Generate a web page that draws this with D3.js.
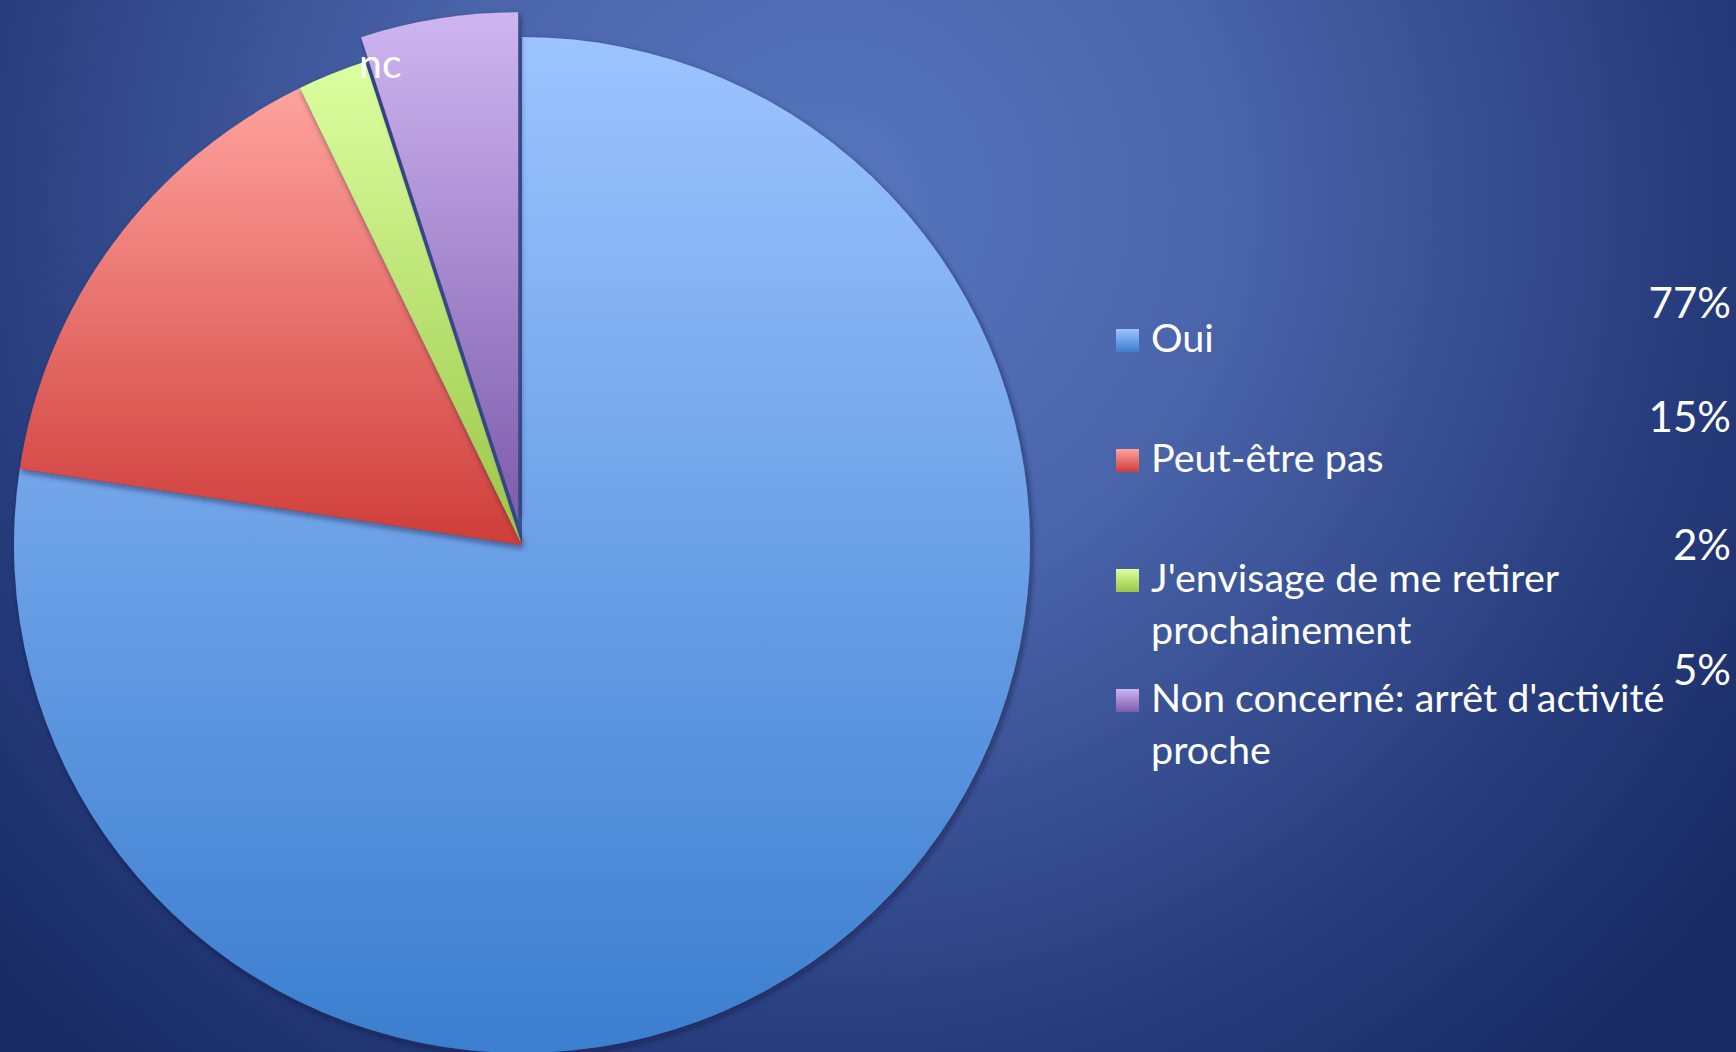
<!DOCTYPE html>
<html><head><meta charset="utf-8">
<script src="https://cdn.jsdelivr.net/npm/d3@7"></script>
<style>html,body{margin:0;padding:0;overflow:hidden;background:#1c2d66}</style>
</head><body>
<script>
const categories = ["Oui", "Peut-être pas", "J'envisage de me retirer prochainement", "Non concerné: arrêt d'activité proche"];
const values = [77.4, 15.4, 2.2, 5.0];
const shortLabels = ["", "", "", "nc"];
const topColors = ["#9dc4ff", "#ffa39e", "#dcffa0", "#cfb5f0"];
const bottomColors = ["#3b7ecf", "#cf3d39", "#9ac646", "#7d5cad"];
const explode = [0, 0, 0, 25];

const W = 1736, H = 1052;
const svg = d3.select("body").append("svg").attr("width", W).attr("height", H);
const defs = svg.append("defs");

const bg = defs.append("radialGradient").attr("id", "bg")
  .attr("gradientUnits", "userSpaceOnUse").attr("cx", 830).attr("cy", 200).attr("r", 1150);
bg.append("stop").attr("offset", "0").attr("stop-color", "#5676bf");
bg.append("stop").attr("offset", "0.35").attr("stop-color", "#4a64aa");
bg.append("stop").attr("offset", "0.75").attr("stop-color", "#273c7c");
bg.append("stop").attr("offset", "1").attr("stop-color", "#172a63");
svg.append("rect").attr("width", W).attr("height", H).attr("fill", "url(#bg)");

categories.forEach((c, i) => {
  const g = defs.append("linearGradient").attr("id", "g" + i).attr("x1", 0).attr("y1", 0).attr("x2", 0).attr("y2", 1);
  g.append("stop").attr("offset", 0).attr("stop-color", topColors[i]);
  g.append("stop").attr("offset", 1).attr("stop-color", bottomColors[i]);
});

const sh = defs.append("filter").attr("id", "sh").attr("x", "-10%").attr("y", "-10%").attr("width", "120%").attr("height", "120%");
sh.append("feDropShadow").attr("dx", 2).attr("dy", 3).attr("stdDeviation", 3).attr("flood-color", "#0a1236").attr("flood-opacity", 0.55);

const cx = 522, cy = 545, R = 508;
const pie = d3.pie().sort(null).value(d => d)(values);
const arc = d3.arc().innerRadius(0).outerRadius(R);

const pg = svg.append("g").attr("transform", `translate(${cx},${cy})`);
pie.forEach((p, i) => {
  const mid = (p.startAngle + p.endAngle) / 2;
  const ox = Math.sin(mid) * explode[i], oy = -Math.cos(mid) * explode[i];
  pg.append("path").attr("d", arc(p)).attr("transform", `translate(${ox},${oy})`)
    .attr("fill", `url(#g${i})`).attr("filter", "url(#sh)");
});

const fontFam = "Lato, 'Open Sans', sans-serif";

// short label "nc"
pie.forEach((p, i) => {
  if (!shortLabels[i]) return;
  const a = p.startAngle + 0.028, rr = R * 0.988;
  pg.append("text").attr("x", Math.sin(a) * rr).attr("y", -Math.cos(a) * rr)
    .attr("text-anchor", "middle").attr("dy", "0.35em")
    .attr("fill", "#fff").attr("font-family", fontFam).attr("font-size", 41)
    .text(shortLabels[i]);
});

// legend
const fs = 39.5;
const legBaselines = [352, 472, 592, 712];
const lineH = 52;
const lg = svg.append("g");
categories.forEach((c, i) => {
  lg.append("rect").attr("x", 1116).attr("y", legBaselines[i] - 23).attr("width", 23).attr("height", 23)
    .attr("fill", `url(#g${i})`);
  const t = lg.append("text").attr("x", 1151).attr("y", legBaselines[i])
    .attr("fill", "#fff").attr("font-family", fontFam).attr("font-size", fs);
  const words = c.split(" ");
  let line = [], ln = 0;
  let ts = t.append("tspan").attr("x", 1151).attr("y", legBaselines[i]);
  words.forEach(w => {
    line.push(w);
    ts.text(line.join(" "));
    if (ts.node().getComputedTextLength() > 540 && line.length > 1) {
      line.pop(); ts.text(line.join(" "));
      line = [w]; ln++;
      ts = t.append("tspan").attr("x", 1151).attr("y", legBaselines[i] + ln * lineH).text(w);
    }
  });
});

// percentage labels
const total = d3.sum(values);
const pctBaselines = [318, 432, 560, 685];
values.forEach((v, i) => {
  svg.append("text").attr("x", 1731).attr("y", pctBaselines[i]).attr("text-anchor", "end")
    .attr("fill", "#fff").attr("font-family", fontFam).attr("font-size", 42)
    .text(Math.round(v / total * 100) + "%");
});
</script>
</body></html>
